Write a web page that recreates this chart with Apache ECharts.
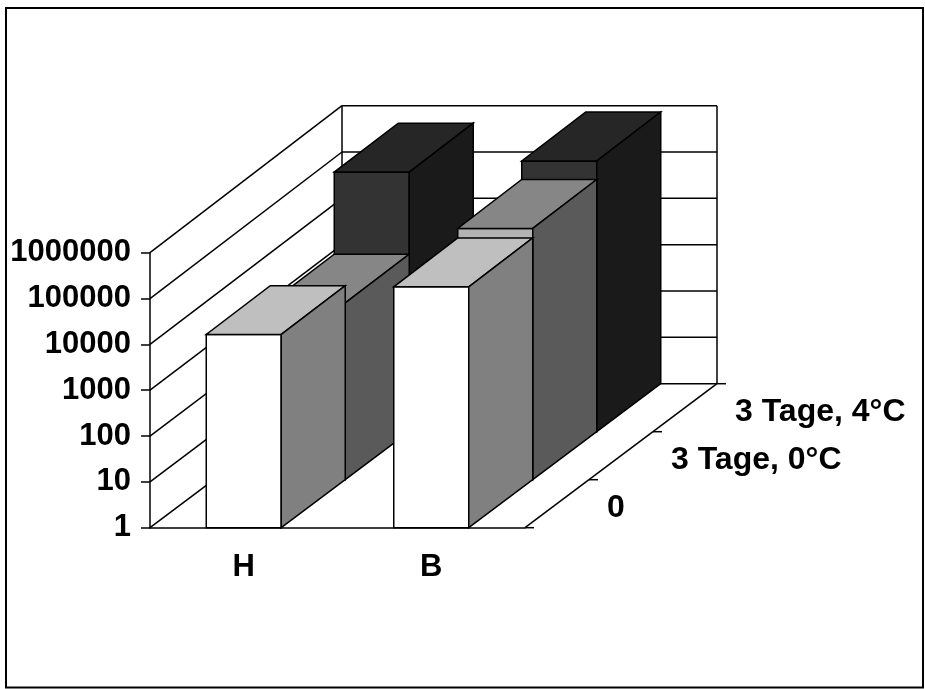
<!DOCTYPE html>
<html>
<head>
<meta charset="utf-8">
<script src="https://cdn.jsdelivr.net/npm/echarts@6/dist/echarts.min.js"></script>
<style>
  html, body { margin: 0; padding: 0; background: #fff; }
  #chart { width: 925px; height: 689px; }
</style>
</head>
<body>
<div id="chart"></div>
<script>
// Categories on the x axis and the depth (series) axis
const categories = ['H', 'B'];
const depthLabels = ['0', '3 Tage, 0°C', '3 Tage, 4°C'];

// Values per series, one entry per category
const valuesDay0 = [16500, 180000];
const values3d0C = [7000, 290000];
const values3d4C = [420000, 730000];

// Log axis range
const yMin = 1;
const yMax = 1000000;

// Front face colours per series; top face 75 %, side face 50 %
const frontColors = ['#ffffff', '#b3b3b3', '#333333'];

// Oblique projection of the depth axis (pixels for full depth)
const DEPTH_DX = 192;
const DEPTH_DY = -144;
const DEPTH_SCALE = 0.011;
const FONT = '"Liberation Sans", Arial, sans-serif';
const LINE_W = 1.5;

function shade(hex, f) {
  const n = parseInt(hex.slice(1), 16);
  const r = Math.round(((n >> 16) & 255) * f);
  const g = Math.round(((n >> 8) & 255) * f);
  const b = Math.round((n & 255) * f);
  return 'rgb(' + r + ',' + g + ',' + b + ')';
}

function project(x, y, d, base) {
  return [x + d * DEPTH_DX, base + (y - base) * (1 + d * DEPTH_SCALE) + d * DEPTH_DY];
}

function lineEl(p, q) {
  return {
    type: 'line',
    shape: { x1: p[0], y1: p[1], x2: q[0], y2: q[1] },
    style: { stroke: '#000', lineWidth: LINE_W }
  };
}

// Walls, floor, gridlines and the depth axis
function renderWalls(params, api) {
  const cs = params.coordSys;
  const x0 = cs.x, x1 = cs.x + cs.width;
  const base = api.coord([0, yMin])[1];
  const top = api.coord([0, yMax])[1];
  const children = [];
  const decades = Math.round(Math.log10(yMax / yMin));
  for (let k = 0; k <= decades; k++) {
    const y = api.coord([0, yMin * Math.pow(10, k)])[1];
    // left wall diagonal
    children.push(lineEl([x0, y], project(x0, y, 1, base)));
    // back wall horizontal
    children.push(lineEl(project(x0, y, 1, base), project(x1, y, 1, base)));
  }
  // back wall verticals
  children.push(lineEl(project(x0, base, 1, base), project(x0, top, 1, base)));
  children.push(lineEl(project(x1, base, 1, base), project(x1, top, 1, base)));
  // floor right edge = depth axis
  children.push(lineEl([x1, base], project(x1, base, 1, base)));
  const n = depthLabels.length;
  for (let i = 0; i <= n; i++) {
    const p = project(x1, base, i / n, base);
    children.push(lineEl(p, [p[0] + 9, p[1]]));
  }
  for (let i = 0; i < n; i++) {
    const p = project(x1, base, (i + 0.5) / n, base);
    children.push({
      type: 'text',
      style: {
        text: depthLabels[i],
        x: p[0] + 50,
        y: p[1] + 4,
        fill: '#000',
        fontFamily: FONT,
        fontSize: 32,
        fontWeight: 'bold',
        align: 'left',
        verticalAlign: 'middle'
      }
    });
  }
  return { type: 'group', children: children };
}

function makeBarRenderer(slot) {
  return function (params, api) {
    const cs = params.coordSys;
    const cat = api.value(0);
    const v = api.value(1);
    const c = api.coord([cat, v]);
    const base = api.coord([cat, yMin])[1];
    const band = cs.width / categories.length;
    const halfW = band * 0.2;
    const xL = c[0] - halfW, xR = c[0] + halfW, yT = c[1], yB = base;
    const n = depthLabels.length;
    const d0 = slot / n, d1 = (slot + 1) / n;
    const col = frontColors[slot];
    const st = function (fill) {
      return { fill: fill, stroke: '#000', lineWidth: LINE_W, lineJoin: 'miter' };
    };
    const P = function (x, y, d) { return project(x, y, d, base); };
    return {
      type: 'group',
      children: [
        { type: 'polygon', shape: { points: [P(xL, yB, d0), P(xR, yB, d0), P(xR, yT, d0), P(xL, yT, d0)] }, style: st(col) },
        { type: 'polygon', shape: { points: [P(xL, yT, d0), P(xR, yT, d0), P(xR, yT, d1), P(xL, yT, d1)] }, style: st(shade(col, 0.75)) },
        { type: 'polygon', shape: { points: [P(xR, yB, d0), P(xR, yB, d1), P(xR, yT, d1), P(xR, yT, d0)] }, style: st(shade(col, 0.5)) }
      ]
    };
  };
}

const seriesValues = [valuesDay0, values3d0C, values3d4C];

const chart = echarts.init(document.getElementById('chart'), null, { renderer: 'canvas' });

const series = [{
  type: 'custom',
  name: 'walls',
  renderItem: renderWalls,
  data: [[0, 1]],
  z: 1,
  silent: true
}];
// back series first so the front ones paint over them
for (let s = depthLabels.length - 1; s >= 0; s--) {
  series.push({
    type: 'custom',
    name: depthLabels[s],
    renderItem: makeBarRenderer(s),
    data: categories.map(function (c, i) { return [i, seriesValues[s][i]]; }),
    z: 2 + (depthLabels.length - s),
    silent: true
  });
}

chart.setOption({
  backgroundColor: '#fff',
  animation: false,
  textStyle: { fontFamily: FONT },
  graphic: [{
    type: 'rect',
    shape: { x: 6, y: 8, width: 917, height: 679.5 },
    style: { fill: 'none', stroke: '#000', lineWidth: 2 },
    z: 100
  }],
  grid: { left: 150, top: 252.7, width: 375, height: 275 },
  xAxis: {
    type: 'category',
    data: categories,
    boundaryGap: true,
    axisLine: { lineStyle: { color: '#000', width: LINE_W } },
    axisTick: { length: 10, lineStyle: { color: '#000', width: LINE_W } },
    axisLabel: { color: '#000', fontSize: 31, fontWeight: 'bold', fontFamily: FONT, margin: 24 },
    splitLine: { show: false }
  },
  yAxis: {
    type: 'log',
    logBase: 10,
    min: yMin,
    max: yMax,
    axisLine: { show: true, lineStyle: { color: '#000', width: LINE_W } },
    axisTick: { show: true, length: 9, lineStyle: { color: '#000', width: LINE_W } },
    axisLabel: {
      color: '#000', fontSize: 31, fontWeight: 'bold', fontFamily: FONT, margin: 19,
      formatter: function (v) { return String(Math.round(v)); }
    },
    splitLine: { show: false }
  },
  series: series
});
</script>
</body>
</html>
